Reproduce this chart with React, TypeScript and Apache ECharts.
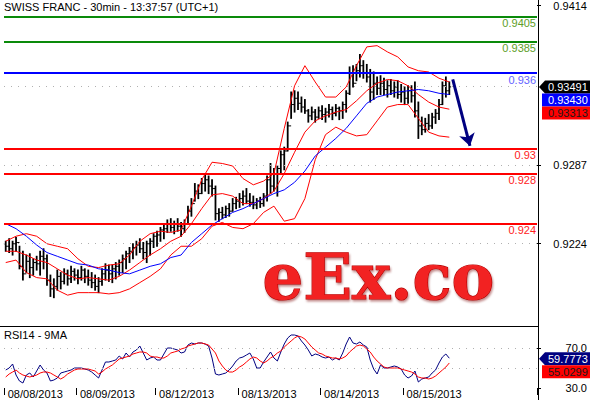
import React, { useEffect, useRef } from "react";
import * as echarts from "echarts";

const TITLE = "SWISS FRANC - 30min - 13:37:57 (UTC+1)";
const RSI_TITLE = "RSI14 - 9MA";
const DAYS = ["08/08/2013", "08/09/2013", "08/12/2013", "08/13/2013", "08/14/2013", "08/15/2013"];
const DAY_BARS = [21, 23, 24, 24, 24, 14];
const EMPTY_SLOTS = 25;

const PRICE_LABELS = [0.9224, 0.9287, 0.9414];
const PRICE_GRID = [0.9224, 0.9287, 0.935];
const RSI_LABELS = [30, 70];
const RSI_GRID = [50, 70];

const LEVELS = [0.9405, 0.9385, 0.936, 0.93, 0.928, 0.924];
const LEVEL_TEXT = ["0.9405", "0.9385", "0.936", "0.93", "0.928", "0.924"];
const LEVEL_KIND = ["g", "g", "b", "r", "r", "r"];

// prices in 1/10000 units (pips)
const FIRST_OPEN = 9224;
const HIGH = [
  9226, 9228, 9226, 9229, 9222, 9218, 9215, 9216, 9212, 9214,
  9218, 9220, 9215, 9199, 9196, 9203, 9201, 9204, 9203, 9206,
  9204, 9203, 9206, 9204, 9203, 9201, 9199, 9197, 9204, 9208,
  9207, 9207, 9209, 9211, 9215, 9218, 9221, 9224, 9226, 9228,
  9225, 9226, 9228, 9232, 9234, 9237, 9239, 9243, 9244, 9242,
  9244, 9241, 9243, 9254, 9260, 9272, 9271, 9276, 9280, 9278,
  9275, 9270, 9252, 9253, 9254, 9256, 9260, 9261, 9264, 9266,
  9268, 9264, 9262, 9260, 9261, 9264, 9278, 9288, 9284, 9286,
  9298, 9301, 9321, 9345, 9346, 9345, 9341, 9339, 9331, 9333,
  9331, 9333, 9334, 9332, 9335, 9333, 9335, 9333, 9337, 9346,
  9365, 9366, 9367, 9375, 9370, 9367, 9363, 9361, 9357, 9358,
  9356, 9354, 9355, 9353, 9354, 9351, 9349, 9350, 9350, 9353,
  9337, 9325, 9324, 9327, 9328, 9331, 9339, 9353, 9357, 9353,
];
const LOW = [
  9218, 9217, 9215, 9218, 9204, 9195, 9201, 9197, 9199, 9203,
  9199, 9204, 9191, 9182, 9181, 9187, 9188, 9192, 9191, 9193,
  9195, 9192, 9195, 9193, 9191, 9189, 9187, 9185, 9191, 9195,
  9194, 9193, 9196, 9199, 9201, 9204, 9209, 9212, 9215, 9217,
  9212, 9209, 9215, 9221, 9222, 9226, 9228, 9233, 9234, 9232,
  9234, 9230, 9233, 9241, 9246, 9258, 9260, 9264, 9266, 9264,
  9262, 9243, 9242, 9244, 9245, 9246, 9250, 9252, 9253, 9255,
  9256, 9254, 9252, 9252, 9253, 9254, 9258, 9264, 9266, 9262,
  9280, 9283, 9298, 9324, 9329, 9331, 9329, 9328, 9321, 9323,
  9321, 9324, 9323, 9321, 9325, 9323, 9326, 9323, 9324, 9329,
  9343, 9349, 9354, 9357, 9356, 9353, 9337, 9339, 9343, 9343,
  9343, 9341, 9343, 9341, 9340, 9337, 9335, 9336, 9337, 9325,
  9308, 9311, 9313, 9315, 9316, 9320, 9323, 9335, 9341, 9343,
];
const CLOSE = [
  9222, 9220, 9224, 9225, 9206, 9200, 9210, 9205, 9209, 9208,
  9214, 9212, 9195, 9188, 9190, 9198, 9194, 9200, 9196, 9202,
  9199, 9197, 9203, 9198, 9195, 9193, 9190, 9194, 9200, 9203,
  9200, 9204, 9206, 9209, 9212, 9216, 9218, 9221, 9223, 9220,
  9217, 9224, 9226, 9230, 9231, 9235, 9236, 9240, 9237, 9240,
  9238, 9236, 9240, 9250, 9256, 9266, 9264, 9272, 9275, 9270,
  9268, 9248, 9249, 9247, 9252, 9250, 9256, 9258, 9260, 9262,
  9258, 9257, 9255, 9258, 9256, 9262, 9275, 9270, 9280, 9284,
  9295, 9298, 9318, 9335, 9340, 9336, 9333, 9330, 9326, 9329,
  9325, 9330, 9327, 9329, 9331, 9328, 9332, 9330, 9335, 9344,
  9360, 9352, 9362, 9366, 9360, 9357, 9345, 9352, 9348, 9352,
  9347, 9350, 9346, 9349, 9343, 9345, 9340, 9346, 9342, 9330,
  9318, 9315, 9320, 9318, 9325, 9328, 9335, 9350, 9346, 9349.1,
];

// indicator lines, one value every BAND_STEP bars
const BAND_STEP = 3;
const UPPER = [
  9226, 9230, 9232, 9230, 9224, 9222, 9220, 9212, 9206, 9205,
  9207, 9208, 9215, 9226, 9232, 9234, 9233, 9235, 9254, 9275,
  9289, 9288, 9286, 9276, 9271, 9274, 9280, 9316, 9350, 9366,
  9353, 9341, 9341, 9349, 9366, 9381, 9382, 9377, 9373, 9365,
  9362, 9361, 9356, 9353,
];
const MIDDLE = [
  9218, 9218, 9215, 9211, 9209, 9204, 9199, 9196, 9197, 9196,
  9195, 9198, 9203, 9209, 9215, 9220, 9226, 9230, 9240, 9252,
  9263, 9264, 9262, 9256, 9256, 9260, 9266, 9280, 9297, 9313,
  9322, 9326, 9329, 9331, 9338, 9346, 9352, 9355, 9354, 9350,
  9343, 9337, 9333, 9331.3,
];
const LOWER = [
  9209, 9211, 9201, 9197, 9196, 9187, 9183, 9185, 9185, 9185,
  9184, 9185, 9188, 9193, 9198, 9204, 9215, 9222, 9222, 9228,
  9238, 9241, 9237, 9236, 9240, 9249, 9254, 9242, 9244, 9260,
  9291, 9311, 9317, 9313, 9310, 9311, 9322, 9333, 9335, 9335,
  9324, 9313, 9310, 9309,
];
const MA_BLUE = [
  9240, 9236, 9230, 9223, 9217, 9214, 9211, 9208, 9207, 9204,
  9203, 9201, 9200, 9203, 9206, 9208, 9213, 9215, 9225, 9232,
  9239, 9244, 9249, 9252, 9256, 9260, 9264, 9267, 9273, 9282,
  9294, 9301, 9308, 9316, 9326, 9336, 9341, 9343, 9345, 9346,
  9347, 9346, 9344, 9343.01,
];

const RSI = [
  48, 50, 54, 43, 37, 35, 43, 45, 41, 47,
  53, 48, 45, 37, 38, 40, 45, 46, 47, 48,
  50, 50, 50, 49, 48, 46, 43, 40, 48, 56,
  56, 57, 58, 62, 59, 65, 61, 66, 68, 72,
  65, 58, 60, 61, 58, 58, 64, 70, 70, 69,
  68, 65, 66, 73, 75, 74, 75, 75, 74, 72,
  60, 44, 43, 44, 45, 48, 52, 57, 60, 61,
  63, 65, 59, 50, 50, 56, 61, 66, 60, 57,
  66, 74, 80, 83, 83, 82, 77, 73, 68, 62,
  64, 63, 61, 60, 61, 58, 60, 58, 65, 74,
  81, 75, 74, 76, 73, 71, 58, 49, 44, 53,
  50, 50, 51, 52, 51, 49, 43, 40, 42, 47,
  36, 39, 40, 41, 45, 48, 55, 61, 64, 59.7773,
];
const RSI_MA = [
  41, 44, 46, 48, 45, 43, 42, 41, 42, 43,
  45, 46, 46, 45, 43, 41, 39, 41, 44, 46,
  48, 49, 49, 49, 49, 48, 47, 44, 46, 49,
  51, 53, 56, 59, 60, 61, 62, 64, 65, 66,
  66, 65, 62, 61, 61, 60, 60, 62, 65, 66,
  67, 69, 70, 72, 73, 74, 75, 75, 74, 73,
  69, 65, 57, 52, 48, 46, 46, 48, 51, 53,
  56, 59, 61, 60, 57, 55, 57, 60, 62, 65,
  67, 71, 74, 77, 80, 82, 81, 79, 75, 71,
  68, 65, 64, 62, 61, 60, 60, 59, 60, 62,
  66, 69, 72, 73, 72, 69, 66, 61, 57, 54,
  51, 50, 50, 50, 50, 49, 48, 47, 46, 44,
  41, 40, 40, 39, 40, 42, 45, 48, 51, 55.0299,
];

const ARROW_FROM = [130, 0.9355];
const ARROW_TO = [135, 0.9302];

const MARK_CLOSE = { value: 0.93491, text: "0.93491" };
const MARK_MA = { value: 0.9343, text: "0.93430" };
const MARK_MID = { value: 0.93313, text: "0.93313" };
const MARK_RSI = { value: 59.7773, text: "59.7773" };
const MARK_RSI_MA = { value: 55.0299, text: "55.0299" };

const FONT = "Liberation Sans";
const LEVEL_COLORS: Record<string, { line: string; text: string }> = {
  g: { line: "#0a8a0a", text: "#5e9e28" },
  b: { line: "#0000ff", text: "#6464ff" },
  r: { line: "#ff0000", text: "#ff1c1c" },
};

export default function App() {
  const ref = useRef<HTMLDivElement>(null);
  useEffect(() => {
    const chart = echarts.init(ref.current!, null, { renderer: "svg" });

    const dayStarts: number[] = [];
    const categories: string[] = [];
    let acc = 0;
    DAYS.forEach((d, k) => {
      dayStarts.push(acc);
      for (let j = 0; j < DAY_BARS[k]; j++) categories.push(d + "|" + j);
      acc += DAY_BARS[k];
    });
    for (let j = 0; j < EMPTY_SLOTS; j++) categories.push("|f" + j);

    const ohlc = HIGH.map((h, i) => [
      i,
      (i === 0 ? FIRST_OPEN : CLOSE[i - 1]) / 1e4,
      CLOSE[i] / 1e4,
      LOW[i] / 1e4,
      h / 1e4,
    ]);
    const band = (arr: number[]) => arr.map((v, k) => [k * BAND_STEP, v / 1e4]);
    const rsiData = (arr: number[]) => arr.map((v, i) => [i, v]);

    const dotted = { type: [1, 6] as any, color: "#b0b0b0", width: 1 };

    const option: any = {
      animation: false,
      textStyle: { fontFamily: FONT },
      title: [
        { text: TITLE, left: 4, top: 1, padding: 0, textStyle: { fontSize: 11, fontWeight: "normal", color: "#000", fontFamily: FONT } },
        { text: RSI_TITLE, left: 4, top: 329, padding: 0, textStyle: { fontSize: 11, fontWeight: "normal", color: "#000", fontFamily: FONT } },
      ],
      grid: [
        { left: 4, right: 52, top: 0, height: 324 },
        { left: 4, right: 52, top: 326, height: 62 },
      ],
      xAxis: [
        {
          gridIndex: 0, type: "category", data: categories, boundaryGap: true,
          axisLine: { show: false }, axisTick: { show: false }, axisLabel: { show: false }, splitLine: { show: false },
        },
        {
          gridIndex: 1, type: "category", data: categories, boundaryGap: true,
          axisLine: { show: false },
          axisTick: { show: true, length: 7, interval: (i: number) => dayStarts.includes(i), lineStyle: { color: "#000" } },
          axisLabel: {
            show: true, interval: (i: number) => dayStarts.includes(i), align: "left", margin: 0,
            padding: [0, 0, 0, 2], fontSize: 11, color: "#000", fontFamily: FONT,
            formatter: (v: string) => v.split("|")[0],
          },
          splitLine: { show: false },
        },
      ],
      yAxis: [
        {
          gridIndex: 0, type: "value", position: "right", min: 0.916, max: 0.94159, scale: true,
          axisLine: { show: false }, splitLine: { show: false },
          axisTick: { show: true, length: 4, customValues: PRICE_LABELS, lineStyle: { color: "#000" } },
          axisLabel: {
            show: true, customValues: PRICE_LABELS, formatter: (v: number) => v.toFixed(4),
            align: "right", margin: 50, fontSize: 11, color: "#000", fontFamily: FONT,
          },
        },
        {
          gridIndex: 1, type: "value", position: "right", min: 30, max: 92,
          axisLine: { show: false }, splitLine: { show: false },
          axisTick: { show: true, length: 4, customValues: RSI_LABELS, lineStyle: { color: "#000" } },
          axisLabel: {
            show: true, customValues: RSI_LABELS, formatter: (v: number) => v.toFixed(1),
            align: "right", margin: 50, fontSize: 11, lineHeight: 10, padding: [0, 0, 2, 0],
            color: "#000", fontFamily: FONT,
          },
        },
      ],
      series: [
        {
          name: "grid-price", type: "line", xAxisIndex: 0, yAxisIndex: 0, data: [], z: 0, silent: true,
          markLine: {
            silent: true, precision: 4, symbol: ["none", "none"], label: { show: false }, lineStyle: dotted,
            data: PRICE_GRID.map((v) => ({ yAxis: v })),
          },
        },
        {
          name: "levels", type: "line", xAxisIndex: 0, yAxisIndex: 0, data: [], z: 1, silent: true,
          markLine: {
            silent: true, precision: 4, symbol: ["none", "none"],
            data: LEVELS.map((v, k) => ({
              yAxis: v,
              lineStyle: { color: LEVEL_COLORS[LEVEL_KIND[k]].line, width: 2, type: "solid" },
              label: {
                show: true, formatter: LEVEL_TEXT[k], position: "insideEndBottom", distance: [1, 1],
                color: LEVEL_COLORS[LEVEL_KIND[k]].text, fontSize: 11, fontFamily: FONT,
              },
            })),
          },
        },
        {
          name: "OHLC", type: "custom", xAxisIndex: 0, yAxisIndex: 0, z: 3,
          encode: { x: 0, y: [1, 2, 3, 4] },
          data: ohlc,
          renderItem: (params: any, api: any) => {
            const idx = api.value(0);
            const pH = api.coord([idx, api.value(4)]);
            const pL = api.coord([idx, api.value(3)]);
            const pO = api.coord([idx, api.value(1)]);
            const pC = api.coord([idx, api.value(2)]);
            const x = pH[0];
            return {
              type: "group",
              children: [
                { type: "line", shape: { x1: x, y1: pH[1] - 0.5, x2: x, y2: pL[1] + 0.5 }, style: { stroke: "#000", lineWidth: 1.8 } },
                { type: "line", shape: { x1: x - 1.8, y1: pO[1], x2: x, y2: pO[1] }, style: { stroke: "#000", lineWidth: 1 } },
                { type: "line", shape: { x1: x, y1: pC[1], x2: x + 1.8, y2: pC[1] }, style: { stroke: "#000", lineWidth: 1 } },
              ],
            };
          },
        },
        { name: "upper", type: "line", xAxisIndex: 0, yAxisIndex: 0, data: band(UPPER), symbol: "none", z: 4, lineStyle: { color: "#ff0000", width: 1 } },
        { name: "middle", type: "line", xAxisIndex: 0, yAxisIndex: 0, data: band(MIDDLE), symbol: "none", z: 4, lineStyle: { color: "#ff0000", width: 1 } },
        { name: "lower", type: "line", xAxisIndex: 0, yAxisIndex: 0, data: band(LOWER), symbol: "none", z: 4, lineStyle: { color: "#ff0000", width: 1 } },
        { name: "ma", type: "line", xAxisIndex: 0, yAxisIndex: 0, data: band(MA_BLUE), symbol: "none", z: 4, lineStyle: { color: "#0000ff", width: 1 } },
        {
          name: "arrow", type: "line", xAxisIndex: 0, yAxisIndex: 0, data: [], z: 5, silent: true,
          markLine: {
            silent: true, precision: 4, symbol: ["none", "arrow"], symbolSize: 12, label: { show: false },
            lineStyle: { color: "#000080", width: 3, type: "solid", curveness: -0.08 },
            data: [[{ coord: ARROW_FROM }, { coord: ARROW_TO }]],
          },
        },
        {
          name: "grid-rsi", type: "line", xAxisIndex: 1, yAxisIndex: 1, data: [], z: 0, silent: true,
          markLine: {
            silent: true, symbol: ["none", "none"], label: { show: false }, lineStyle: dotted,
            data: RSI_GRID.map((v) => ({ yAxis: v })),
          },
        },
        { name: "RSI", type: "line", xAxisIndex: 1, yAxisIndex: 1, data: rsiData(RSI), symbol: "none", z: 3, lineStyle: { color: "#000080", width: 1 } },
        { name: "RSI MA", type: "line", xAxisIndex: 1, yAxisIndex: 1, data: rsiData(RSI_MA), symbol: "none", z: 4, lineStyle: { color: "#ff0000", width: 1 } },
      ],
    };
    chart.setOption(option);

    const py = (v: number, yi: number) => chart.convertToPixel({ yAxisIndex: yi } as any, v) as number;
    const H = 13;
    const cClose = py(MARK_CLOSE.value, 0);
    const cMa = Math.max(py(MARK_MA.value, 0), cClose + H);
    const cMid = Math.max(py(MARK_MID.value, 0), cMa + H);
    const cRsi = py(MARK_RSI.value, 1) + 0.5;
    const cRsiMa = Math.max(py(MARK_RSI_MA.value, 1), cRsi + H);

    const arrowBox = (c: number, fill: string) => ({
      type: "polygon", z: 20,
      shape: { points: [[539, c], [545, c - H / 2], [592, c - H / 2], [592, c + H / 2], [545, c + H / 2]] },
      style: { fill },
    });
    const rectBox = (c: number, fill: string) => ({
      type: "rect", z: 20, shape: { x: 542, y: c - H / 2, width: 50, height: H }, style: { fill },
    });
    const boxText = (c: number, text: string, fill: string) => ({
      type: "text", z: 21, x: 548, y: c,
      style: { text, fill, fontSize: 11, lineHeight: 10, fontFamily: FONT, verticalAlign: "middle", align: "left" },
    });

    chart.setOption({
      graphic: [
        {
          type: "text", id: "wm", left: 262, top: 244, z: 10, silent: true,
          style: {
            text: "eEx.co", fill: "#f22424", stroke: "#b30000", lineWidth: 1.2,
            font: 'bold 64px "DejaVu Serif"',
            textShadowColor: "rgba(120,0,0,0.45)", textShadowOffsetX: 1, textShadowOffsetY: 2, textShadowBlur: 2,
          },
        },
        { type: "line", id: "vline", z: 15, shape: { x1: 538.5, y1: 0, x2: 538.5, y2: 400 }, style: { stroke: "#000", lineWidth: 1 } },
        { type: "line", id: "hline", z: 15, shape: { x1: 0, y1: 326.5, x2: 538.5, y2: 326.5 }, style: { stroke: "#000", lineWidth: 1 } },
        { ...arrowBox(cClose, "#000000"), id: "m1" },
        { ...boxText(cClose, MARK_CLOSE.text, "#ffffff"), id: "t1" },
        { ...rectBox(cMa, "#0000ff"), id: "m2" },
        { ...boxText(cMa, MARK_MA.text, "#ffffff"), id: "t2" },
        { ...rectBox(cMid, "#ff0000"), id: "m3" },
        { ...boxText(cMid, MARK_MID.text, "#1a1a1a"), id: "t3" },
        { ...arrowBox(cRsi, "#000080"), id: "m4" },
        { ...boxText(cRsi, MARK_RSI.text, "#ffffff"), id: "t4" },
        { ...rectBox(cRsiMa, "#ff0000"), id: "m5" },
        { ...boxText(cRsiMa, MARK_RSI_MA.text, "#1a1a1a"), id: "t5" },
      ],
    });

    return () => chart.dispose();
  }, []);
  return <div ref={ref} style={{ position: "fixed", left: 0, top: 0, width: 590, height: 400, background: "#fff" }} />;
}
